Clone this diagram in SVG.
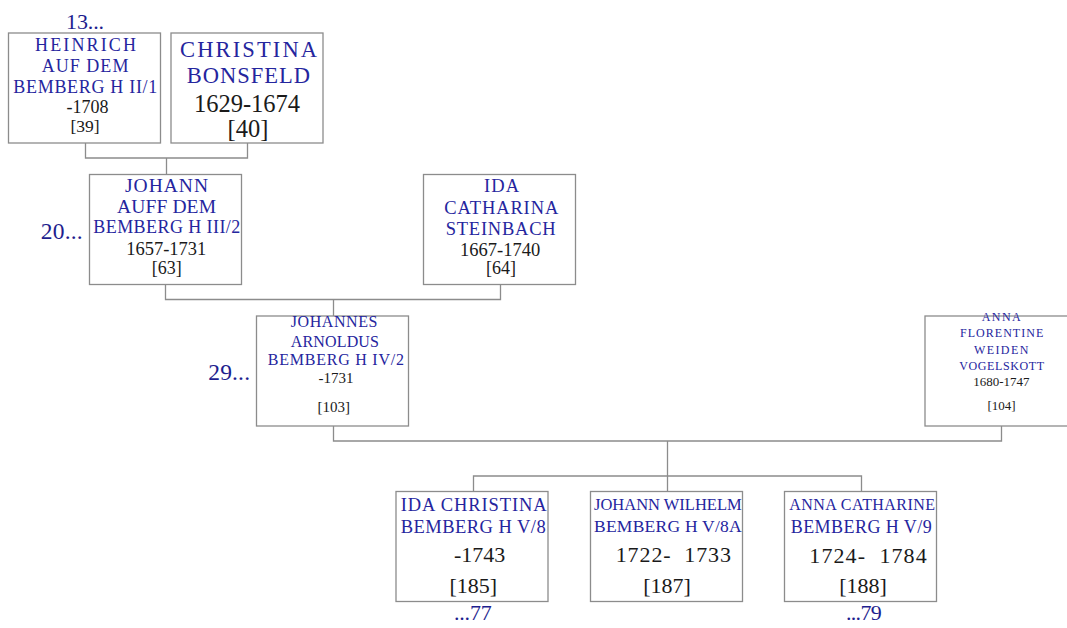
<svg xmlns="http://www.w3.org/2000/svg" width="1067" height="628" viewBox="0 0 1067 628">
<style>
.box{fill:#ffffff;stroke:#8c8c8c;stroke-width:1.3}
.conn{fill:none;stroke:#8c8c8c;stroke-width:1.3}
.nm{font-family:"Liberation Serif","Times New Roman",serif;fill:#25259e}
.dt{font-family:"Liberation Serif","Times New Roman",serif;fill:#1a1a1a;text-anchor:middle}
.dts{font-family:"Liberation Serif","Times New Roman",serif;fill:#1a1a1a;text-anchor:start;white-space:pre}
.gen{font-family:"Liberation Serif","Times New Roman",serif;fill:#1e1e8e}
</style>
<rect x="0" y="0" width="1067" height="628" fill="#ffffff"/>
<g id="connectors">
<path class="conn" d="M85.5,143 V158 H247.5 V143"/>
<path class="conn" d="M166.5,158 V174.5"/>
<path class="conn" d="M165.5,284.5 V299.5 H500.5 V284.5"/>
<path class="conn" d="M333.5,299.5 V316"/>
<path class="conn" d="M333.5,426 V441 H1001.5 V426"/>
<path class="conn" d="M667.5,441 V491.5"/>
<path class="conn" d="M473.5,491.5 V476 H861.5 V491.5"/>
</g>
<g id="n39">
<text class="gen" x="66" y="29" font-size="22" textLength="38">13...</text>
<rect class="box" x="8.5" y="33" width="152" height="110"/>
<text class="nm" x="35" y="51" font-size="18" textLength="101">HEINRICH</text>
<text class="nm" x="41.7" y="72" font-size="18" textLength="86.7">AUF DEM</text>
<text class="nm" x="13.3" y="92.7" font-size="18" textLength="144">BEMBERG H II/1</text>
<text class="dt" x="87.5" y="113" font-size="18">-1708</text>
<text class="dt" x="85" y="132" font-size="17.5">[39]</text>
</g>
<g id="n40">
<rect class="box" x="171" y="33" width="152" height="110"/>
<text class="nm" x="180" y="57.3" font-size="22.5" textLength="137">CHRISTINA</text>
<text class="nm" x="186.7" y="83.3" font-size="22.5" textLength="123.3">BONSFELD</text>
<text class="dt" x="247" y="111.7" font-size="24.5">1629-1674</text>
<text class="dt" x="248" y="136.5" font-size="24.5">[40]</text>
</g>
<g id="n63">
<text class="gen" x="40.7" y="239" font-size="23.5" textLength="42">20...</text>
<rect class="box" x="89.5" y="174.5" width="152" height="110"/>
<text class="nm" x="125" y="191.7" font-size="19.5" textLength="83">JOHANN</text>
<text class="nm" x="117" y="213.3" font-size="19.5" textLength="99">AUFF DEM</text>
<text class="nm" x="93.3" y="233.3" font-size="18" textLength="147">BEMBERG H III/2</text>
<text class="dt" x="166.3" y="255" font-size="18.5">1657-1731</text>
<text class="dt" x="166.8" y="274" font-size="18">[63]</text>
</g>
<g id="n64">
<rect class="box" x="423.5" y="174.5" width="152" height="110"/>
<text class="nm" x="484" y="192.3" font-size="18.5" textLength="35">IDA</text>
<text class="nm" x="444.3" y="214.3" font-size="18.5" textLength="114">CATHARINA</text>
<text class="nm" x="445.7" y="235" font-size="18.5" textLength="110">STEINBACH</text>
<text class="dt" x="500.2" y="255.7" font-size="18.5">1667-1740</text>
<text class="dt" x="501" y="274" font-size="18">[64]</text>
</g>
<g id="n103">
<text class="gen" x="208.3" y="380" font-size="23.5" textLength="41.7">29...</text>
<rect class="box" x="256.5" y="316" width="152" height="110"/>
<text class="nm" x="290.7" y="327.3" font-size="16" textLength="86.7">JOHANNES</text>
<text class="nm" x="290.7" y="346.7" font-size="16" textLength="88.3">ARNOLDUS</text>
<text class="nm" x="267.7" y="365" font-size="16" textLength="136.3">BEMBERG H IV/2</text>
<text class="dt" x="336" y="383.3" font-size="15">-1731</text>
<text class="dt" x="333.7" y="411.5" font-size="15">[103]</text>
</g>
<g id="n104">
<rect class="box" x="925" y="316" width="153" height="110"/>
<text class="nm" x="981.7" y="320.7" font-size="12" textLength="39">ANNA</text>
<text class="nm" x="960" y="337.3" font-size="12" textLength="83.3">FLORENTINE</text>
<text class="nm" x="974" y="354" font-size="12" textLength="54.3">WEIDEN</text>
<text class="nm" x="959.3" y="370" font-size="12" textLength="84.7">VOGELSKOTT</text>
<text class="dt" x="1001.3" y="386" font-size="13">1680-1747</text>
<text class="dt" x="1001.5" y="410" font-size="13">[104]</text>
</g>
<g id="n185">
<rect class="box" x="396" y="491.5" width="152" height="110"/>
<text class="nm" x="400.7" y="511" font-size="18.5" textLength="146">IDA CHRISTINA</text>
<text class="nm" x="400.7" y="533" font-size="18.5" textLength="145">BEMBERG H V/8</text>
<text class="dt" x="479.7" y="562" font-size="22">-1743</text>
<text class="dt" x="473.3" y="593" font-size="22">[185]</text>
<text class="gen" x="454" y="620" font-size="22" textLength="37.7">...77</text>
</g>
<g id="n187">
<rect class="box" x="590.5" y="491.5" width="152" height="110"/>
<text class="nm" x="594" y="510" font-size="16.5" textLength="147.7">JOHANN WILHELM</text>
<text class="nm" x="594" y="532" font-size="17.5" textLength="147.7">BEMBERG H V/8A</text>
<text class="dts" x="615.7" y="562" font-size="22" textLength="115.3">1722-  1733</text>
<text class="dt" x="667" y="593" font-size="22">[187]</text>
</g>
<g id="n188">
<rect class="box" x="784.5" y="491.5" width="152" height="110"/>
<text class="nm" x="789.3" y="509.5" font-size="16" textLength="145.7">ANNA CATHARINE</text>
<text class="nm" x="790.7" y="533" font-size="18" textLength="141">BEMBERG H V/9</text>
<text class="dts" x="809.3" y="562.5" font-size="22" textLength="117.4">1724-  1784</text>
<text class="dt" x="863" y="593" font-size="22">[188]</text>
<text class="gen" x="846" y="620" font-size="22" textLength="35.7">...79</text>
</g>
</svg>
